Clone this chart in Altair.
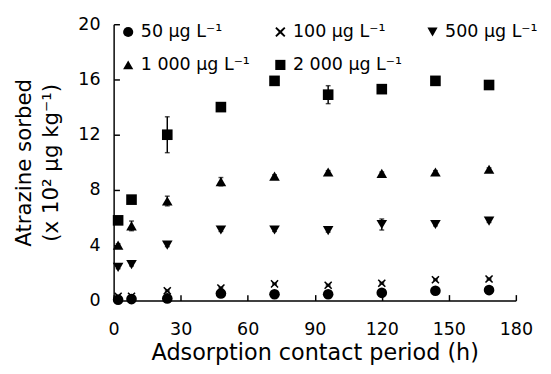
import altair as alt
import pandas as pd

times = [2, 8, 24, 48, 72, 96, 120, 144, 168]
series = ["50 µg L⁻¹", "100 µg L⁻¹", "500 µg L⁻¹", "1 000 µg L⁻¹", "2 000 µg L⁻¹"]
c50 = [0.05, 0.1, 0.15, 0.5, 0.45, 0.45, 0.55, 0.7, 0.75]
c100 = [0.3, 0.3, 0.7, 0.9, 1.2, 1.1, 1.25, 1.5, 1.55]
c500 = [2.4, 2.6, 4.0, 5.1, 5.1, 5.05, 5.5, 5.5, 5.75]
c1000 = [4.0, 5.4, 7.2, 8.6, 9.0, 9.3, 9.2, 9.3, 9.5]
c2000 = [5.8, 7.3, 12.0, 14.0, 15.9, 14.9, 15.3, 15.9, 15.6]
e50 = [0.05, 0.05, 0.05, 0.05, 0.05, 0.05, 0.05, 0.05, 0.05]
e100 = [0.05, 0.05, 0.05, 0.05, 0.05, 0.05, 0.05, 0.05, 0.05]
e500 = [0.1, 0.1, 0.1, 0.1, 0.1, 0.1, 0.4, 0.1, 0.1]
e1000 = [0.1, 0.35, 0.35, 0.3, 0.1, 0.1, 0.1, 0.1, 0.1]
e2000 = [0.2, 0.1, 1.3, 0.1, 0.1, 0.65, 0.1, 0.1, 0.1]
xticks = [0, 30, 60, 90, 120, 150, 180]
yticks = [0, 4, 8, 12, 16, 20]
xtitle = "Adsorption contact period (h)"
ytitle = ["Atrazine sorbed", "(x 10² µg kg⁻¹)"]

xshape = "M-1,-0.75L-0.75,-1L0,-0.3L0.75,-1L1,-0.75L0.3,0L1,0.75L0.75,1L0,0.3L-0.75,1L-1,0.75L-0.3,0Z"
shapes = ["circle", xshape, "triangle-down", "triangle-up", "square"]

rows = []
for name, vals, errs in zip(series, [c50, c100, c500, c1000, c2000], [e50, e100, e500, e1000, e2000]):
    for t, v, e in zip(times, vals, errs):
        rows.append({"t": t, "v": v, "lo": v - e, "hi": v + e, "s": name})
df = pd.DataFrame(rows)

FONT = "DejaVu Sans"
xscale = alt.Scale(domain=[0, 180], nice=False)
yscale = alt.Scale(domain=[0, 20], nice=False)

xaxis = alt.Axis(values=xticks, titleFontSize=23, labelFlush=False,
                 tickSize=alt.ExprRef("-6"), labelPadding=27, titlePadding=4)
yaxis = alt.Axis(values=yticks, titleFontSize=22, titleLineHeight=28, labelFlush=False,
                 tickSize=alt.ExprRef("-6"), labelPadding=20, titlePadding=16)

points = alt.Chart(df).mark_point(filled=True, opacity=1, color="black", strokeWidth=0).encode(
    x=alt.X("t:Q", scale=xscale, title=xtitle, axis=xaxis),
    y=alt.Y("v:Q", scale=yscale, title=ytitle, axis=yaxis),
    shape=alt.Shape("s:N", scale=alt.Scale(domain=series, range=shapes), sort=series, legend=alt.Legend(
        title=None, orient="none", legendX=6, legendY=-1, columns=3, direction="horizontal",
        labelFontSize=18, labelFont=FONT, labelColor="black", columnPadding=22, rowPadding=16,
        symbolFillColor="black", symbolStrokeWidth=0, symbolSize=110, symbolOffset=0, labelOffset=4)),
    size=alt.condition(alt.datum.s == series[1], alt.value(70), alt.value(120)),
)

err = alt.Chart(df).mark_errorbar(ticks=True, color="black", thickness=1.5).encode(
    x=alt.X("t:Q", scale=xscale, title=xtitle, axis=xaxis),
    y=alt.Y("lo:Q", scale=yscale, title=ytitle, axis=yaxis),
    y2="hi:Q",
)

chart = alt.layer(points, err).properties(
    width=415, height=285, padding={"left": 5, "top": 2, "right": 5, "bottom": 0}
).configure_view(stroke=None).configure_axis(
    grid=False, domainColor="black", domainWidth=1.5, tickColor="black", tickWidth=1.5,
    labelColor="black", titleColor="black", labelFont=FONT, titleFont=FONT,
    labelFontSize=18, titleFontWeight="normal",
)

chart.save("out.html", embed_options={"renderer": "svg", "actions": False})
